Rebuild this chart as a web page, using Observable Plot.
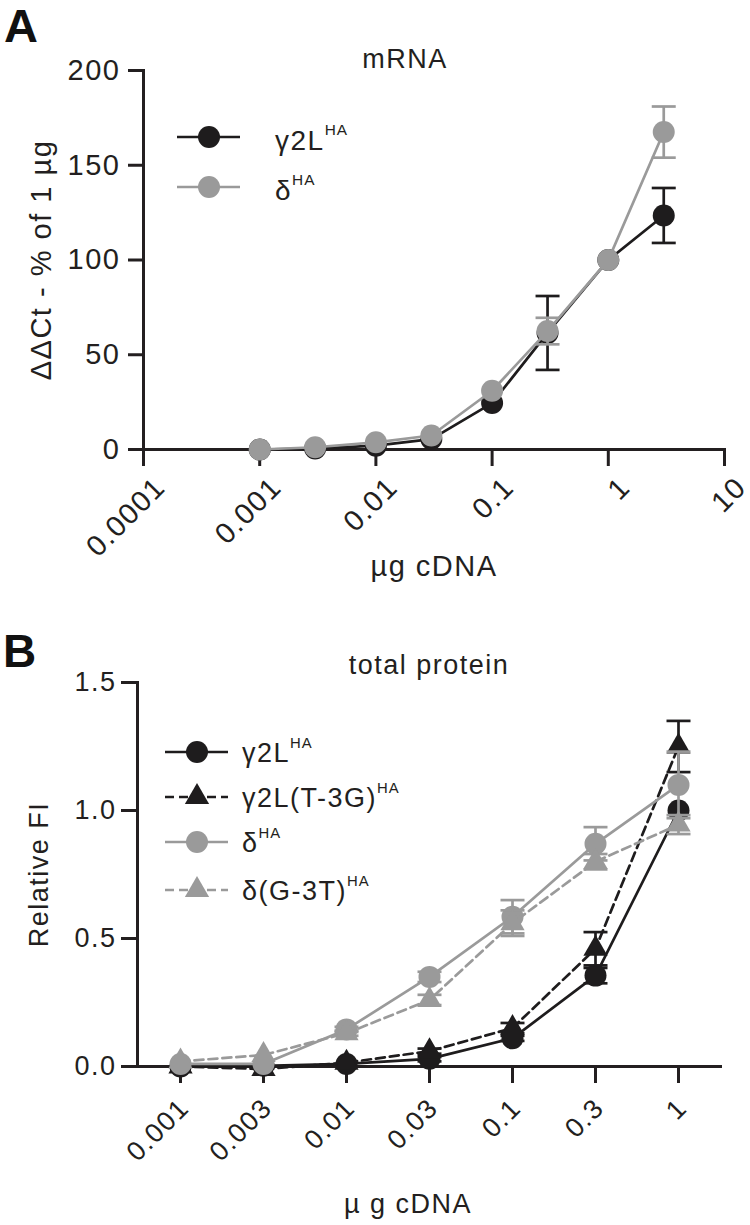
<!DOCTYPE html>
<html>
<head>
<meta charset="utf-8">
<script src="https://cdn.jsdelivr.net/npm/d3@7"></script>
<script src="https://cdn.jsdelivr.net/npm/@observablehq/plot@0.6"></script>
<style>
  html, body { margin: 0; padding: 0; background: #fff; }
  #wrap { position: relative; width: 750px; height: 1225px; font-family: "Liberation Sans", Arial, sans-serif; }
  .panel { position: absolute; left: 0; width: 750px; }
  .panel svg { position: absolute; left: 0; top: 0; overflow: visible; }
</style>
</head>
<body>
<div id="wrap">
  <div class="panel" id="pa" style="top:0;height:600px"></div>
  <div class="panel" id="pb" style="top:600px;height:625px"></div>
</div>
<script>
// ---------------- DATA ----------------
// Panel A: mRNA (ΔΔCt - % of 1 µg) vs µg cDNA (log scale)
const dosesA = [0.001, 0.003, 0.01, 0.03, 0.1, 0.3, 1, 3];
const g2lMrna = [0, 0.5, 2, 5.5, 24.5, 61.5, 100, 123.5];
const g2lMrnaErr = [0, 0, 0, 0, 0, 19.5, 0, 14.5];
const deltaMrna = [0, 1.2, 3.8, 7.4, 31, 62.5, 100, 167.5];
const deltaMrnaErr = [0, 0, 0, 0, 0, 7, 0, 13.5];
const tickValuesA = [0.0001, 0.001, 0.01, 0.1, 1, 10];
const tickLabelsA = ["0.0001", "0.001", "0.01", "0.1", "1", "10"];
const yTicksA = [0, 50, 100, 150, 200];

// Panel B: total protein (Relative FI) vs µg cDNA (categorical)
const dosesB = ["0.001", "0.003", "0.01", "0.03", "0.1", "0.3", "1"];
const g2lProt = [0, 0.003, 0.01, 0.03, 0.11, 0.355, 1.0];
const g2lProtErr = [0, 0, 0, 0.01, 0.01, 0.03, 0];
const g2lT3GProt = [0, -0.01, 0.015, 0.06, 0.15, 0.46, 1.25];
const g2lT3GProtErr = [0, 0, 0, 0.01, 0.02, 0.065, 0.1];
const deltaProt = [0.01, 0.01, 0.145, 0.35, 0.585, 0.87, 1.10];
const deltaProtErr = [0, 0, 0.01, 0.02, 0.065, 0.065, 0.13];
const deltaG3TProt = [0.02, 0.045, 0.13, 0.26, 0.56, 0.80, 0.945];
const deltaG3TProtErr = [0, 0, 0.01, 0.02, 0.05, 0.03, 0.037];
const yTicksB = [0, 0.5, 1.0, 1.5];

const seriesNames = ["γ2L", "γ2L(T-3G)", "δ", "δ(G-3T)"];
const seriesSup = "HA";

// ---------------- STYLE ----------------
const BLACK = "#1e1c1d";
const GRAY = "#9a9a9a";
const AXIS = "#231f20";
const FONT = "'Liberation Sans', Arial, sans-serif";
const FSA = 29;   // panel A text
const FSB = 27;   // panel B text
const FST = 27;   // titles
const LS = "1.5px";
const LW = 2.7;

const capSymbol = {
  draw(ctx, size) {
    const w = Math.sqrt(size / Math.PI);
    ctx.moveTo(-w, 0);
    ctx.lineTo(w, 0);
  }
};

function rows(xs, ys, es) {
  return xs.map((x, i) => ({x, y: ys[i], e: es[i]}));
}
function capRows(r) {
  const out = [];
  r.filter(d => d.e > 0).forEach(d => {
    out.push({x: d.x, y: d.y + d.e});
    out.push({x: d.x, y: d.y - d.e});
  });
  return out;
}
function seriesMarks(r, color, symbol, rad, dash) {
  const withErr = r.filter(d => d.e > 0);
  return [
    Plot.line(r, {x: "x", y: "y", stroke: color, strokeWidth: LW, strokeDasharray: dash}),
    Plot.ruleX(withErr, {x: "x", y1: d => d.y - d.e, y2: d => d.y + d.e, stroke: color, strokeWidth: LW}),
    Plot.dot(capRows(r), {x: "x", y: "y", symbol: capSymbol, r: 12, stroke: color, strokeWidth: LW, fill: "none"}),
    Plot.dot(r, {x: "x", y: "y", symbol, r: rad, fill: color, stroke: "none"})
  ];
}
const baseStyle = fs => ({fontFamily: FONT, fontSize: fs + "px", letterSpacing: LS, color: AXIS, background: "transparent", overflow: "visible"});

// ---------------- PANEL A ----------------
const rA1 = rows(dosesA, g2lMrna, g2lMrnaErr);
const rA2 = rows(dosesA, deltaMrna, deltaMrnaErr);

const plotA = Plot.plot({
  width: 750, height: 600,
  marginTop: 70, marginBottom: 151, marginLeft: 143, marginRight: 26,
  style: baseStyle(FSA),
  x: {type: "log", domain: [0.0001, 10]},
  y: {domain: [0, 200]},
  marks: [
    Plot.axisY({ticks: yTicksA, tickFormat: d => String(d), tickSize: 15, tickPadding: 8, fontSize: FSA, strokeWidth: 3, label: null}),
    Plot.axisX({ticks: tickValuesA, tickFormat: () => "", tickSize: 17, strokeWidth: 3, label: null}),
    Plot.axisX({ticks: tickValuesA, tickFormat: d => tickLabelsA[tickValuesA.indexOf(d)], tickSize: 0, tickPadding: 33, dx: 17, tickRotate: -45, fontSize: FSA, label: null}),
    Plot.frame({anchor: "left", strokeWidth: 3, stroke: AXIS}),
    Plot.frame({anchor: "bottom", strokeWidth: 3, stroke: AXIS}),
    Plot.text(["mRNA"], {text: d => d, frameAnchor: "top", textAnchor: "middle", lineAnchor: "middle", dy: -11, dx: -29, fontSize: FST, fill: AXIS}),
    Plot.text(["ΔΔCt - % of 1 µg"], {text: d => d, frameAnchor: "left", textAnchor: "middle", lineAnchor: "middle", rotate: -90, dx: -102, fontSize: FSA, fill: AXIS}),
    Plot.text(["µg cDNA"], {text: d => d, frameAnchor: "bottom", textAnchor: "middle", lineAnchor: "middle", dy: 117, fontSize: FSA, fill: AXIS}),
    ...seriesMarks(rA1, BLACK, "circle", 11),
    ...seriesMarks(rA2, GRAY, "circle", 11)
  ]
});
document.getElementById("pa").appendChild(plotA);

// ---------------- PANEL B ----------------
const rB1 = rows(dosesB, g2lProt, g2lProtErr);
const rB2 = rows(dosesB, g2lT3GProt, g2lT3GProtErr);
const rB3 = rows(dosesB, deltaProt, deltaProtErr);
const rB4 = rows(dosesB, deltaG3TProt, deltaG3TProtErr);

const plotB = Plot.plot({
  width: 750, height: 625,
  marginTop: 82, marginBottom: 159, marginLeft: 137, marginRight: 30,
  style: baseStyle(FSB),
  x: {type: "point", domain: dosesB, padding: 0.5},
  y: {domain: [0, 1.5]},
  marks: [
    Plot.axisY({ticks: yTicksB, tickFormat: d3.format(".1f"), tickSize: 16, tickPadding: 5, fontSize: FSB, strokeWidth: 3, label: null}),
    Plot.axisX({tickFormat: () => "", tickSize: 17, strokeWidth: 3, label: null}),
    Plot.axisX({tickSize: 0, tickPadding: 37, dx: 4, tickRotate: -45, fontSize: FSB, label: null}),
    Plot.frame({anchor: "left", strokeWidth: 3, stroke: AXIS}),
    Plot.frame({anchor: "bottom", strokeWidth: 3, stroke: AXIS}),
    Plot.text(["total protein"], {text: d => d, frameAnchor: "top", textAnchor: "middle", lineAnchor: "middle", dy: -17, fontSize: FST, fill: AXIS}),
    Plot.text(["Relative FI"], {text: d => d, frameAnchor: "left", textAnchor: "middle", lineAnchor: "middle", rotate: -90, dx: -98, fontSize: FSB, fill: AXIS}),
    Plot.text(["µ g cDNA"], {text: d => d, frameAnchor: "bottom", textAnchor: "middle", lineAnchor: "middle", dy: 138, dx: -21, fontSize: FSB, fill: AXIS}),
    ...seriesMarks(rB1, BLACK, "circle", 11),
    ...seriesMarks(rB2, BLACK, "triangle", 9, "9,5"),
    ...seriesMarks(rB3, GRAY, "circle", 11),
    ...seriesMarks(rB4, GRAY, "triangle", 9, "9,5")
  ]
});
document.getElementById("pb").appendChild(plotB);

// ---------------- OVERLAYS (panel letters + legends) ----------------
function overlay(parentId, h) {
  return d3.select("#" + parentId).append("svg")
    .attr("width", 750).attr("height", h)
    .style("font-family", FONT);
}
function drawLegend(svg, items, o) {
  items.forEach(it => {
    const g = svg.append("g").attr("transform", `translate(0,${it.y})`);
    g.append("line").attr("x1", o.x0).attr("x2", o.x1).attr("y1", 0).attr("y2", 0)
      .attr("stroke", it.color).attr("stroke-width", LW)
      .attr("stroke-dasharray", it.dash || null);
    const sym = it.symbol === "triangle" ? d3.symbolTriangle : d3.symbolCircle;
    const r = it.symbol === "triangle" ? 9 : 11;
    g.append("path").attr("transform", `translate(${o.xm},0)`)
      .attr("d", d3.symbol(sym, Math.PI * r * r)()).attr("fill", it.color);
    const t = g.append("text").attr("x", o.xt).attr("y", o.base)
      .attr("font-size", o.fs).attr("letter-spacing", LS).attr("fill", AXIS).text(it.label);
    t.append("tspan").attr("dy", -o.fs * 0.52).attr("font-size", o.fs * 0.55).attr("letter-spacing", "1px").text(seriesSup);
  });
}

const ovA = overlay("pa", 600);
ovA.append("text").attr("x", 4).attr("y", 42).attr("font-size", 47).attr("font-weight", "bold").attr("fill", "#111").text("A");
drawLegend(ovA, [
  {y: 137, color: BLACK, symbol: "circle", label: seriesNames[0]},
  {y: 187, color: GRAY, symbol: "circle", label: seriesNames[2]}
], {x0: 177, x1: 240, xm: 209, xt: 275, base: 13, fs: 28});

const ovB = overlay("pb", 625);
ovB.append("text").attr("x", 3).attr("y", 67).attr("font-size", 46).attr("font-weight", "bold").attr("fill", "#111").text("B");
drawLegend(ovB, [
  {y: 152, color: BLACK, symbol: "circle", label: seriesNames[0]},
  {y: 197, color: BLACK, symbol: "triangle", dash: "9,5", label: seriesNames[1]},
  {y: 242, color: GRAY, symbol: "circle", label: seriesNames[2]},
  {y: 290, color: GRAY, symbol: "triangle", dash: "9,5", label: seriesNames[3]}
], {x0: 165, x1: 228, xm: 197, xt: 242, base: 10, fs: 27});
</script>
</body>
</html>
